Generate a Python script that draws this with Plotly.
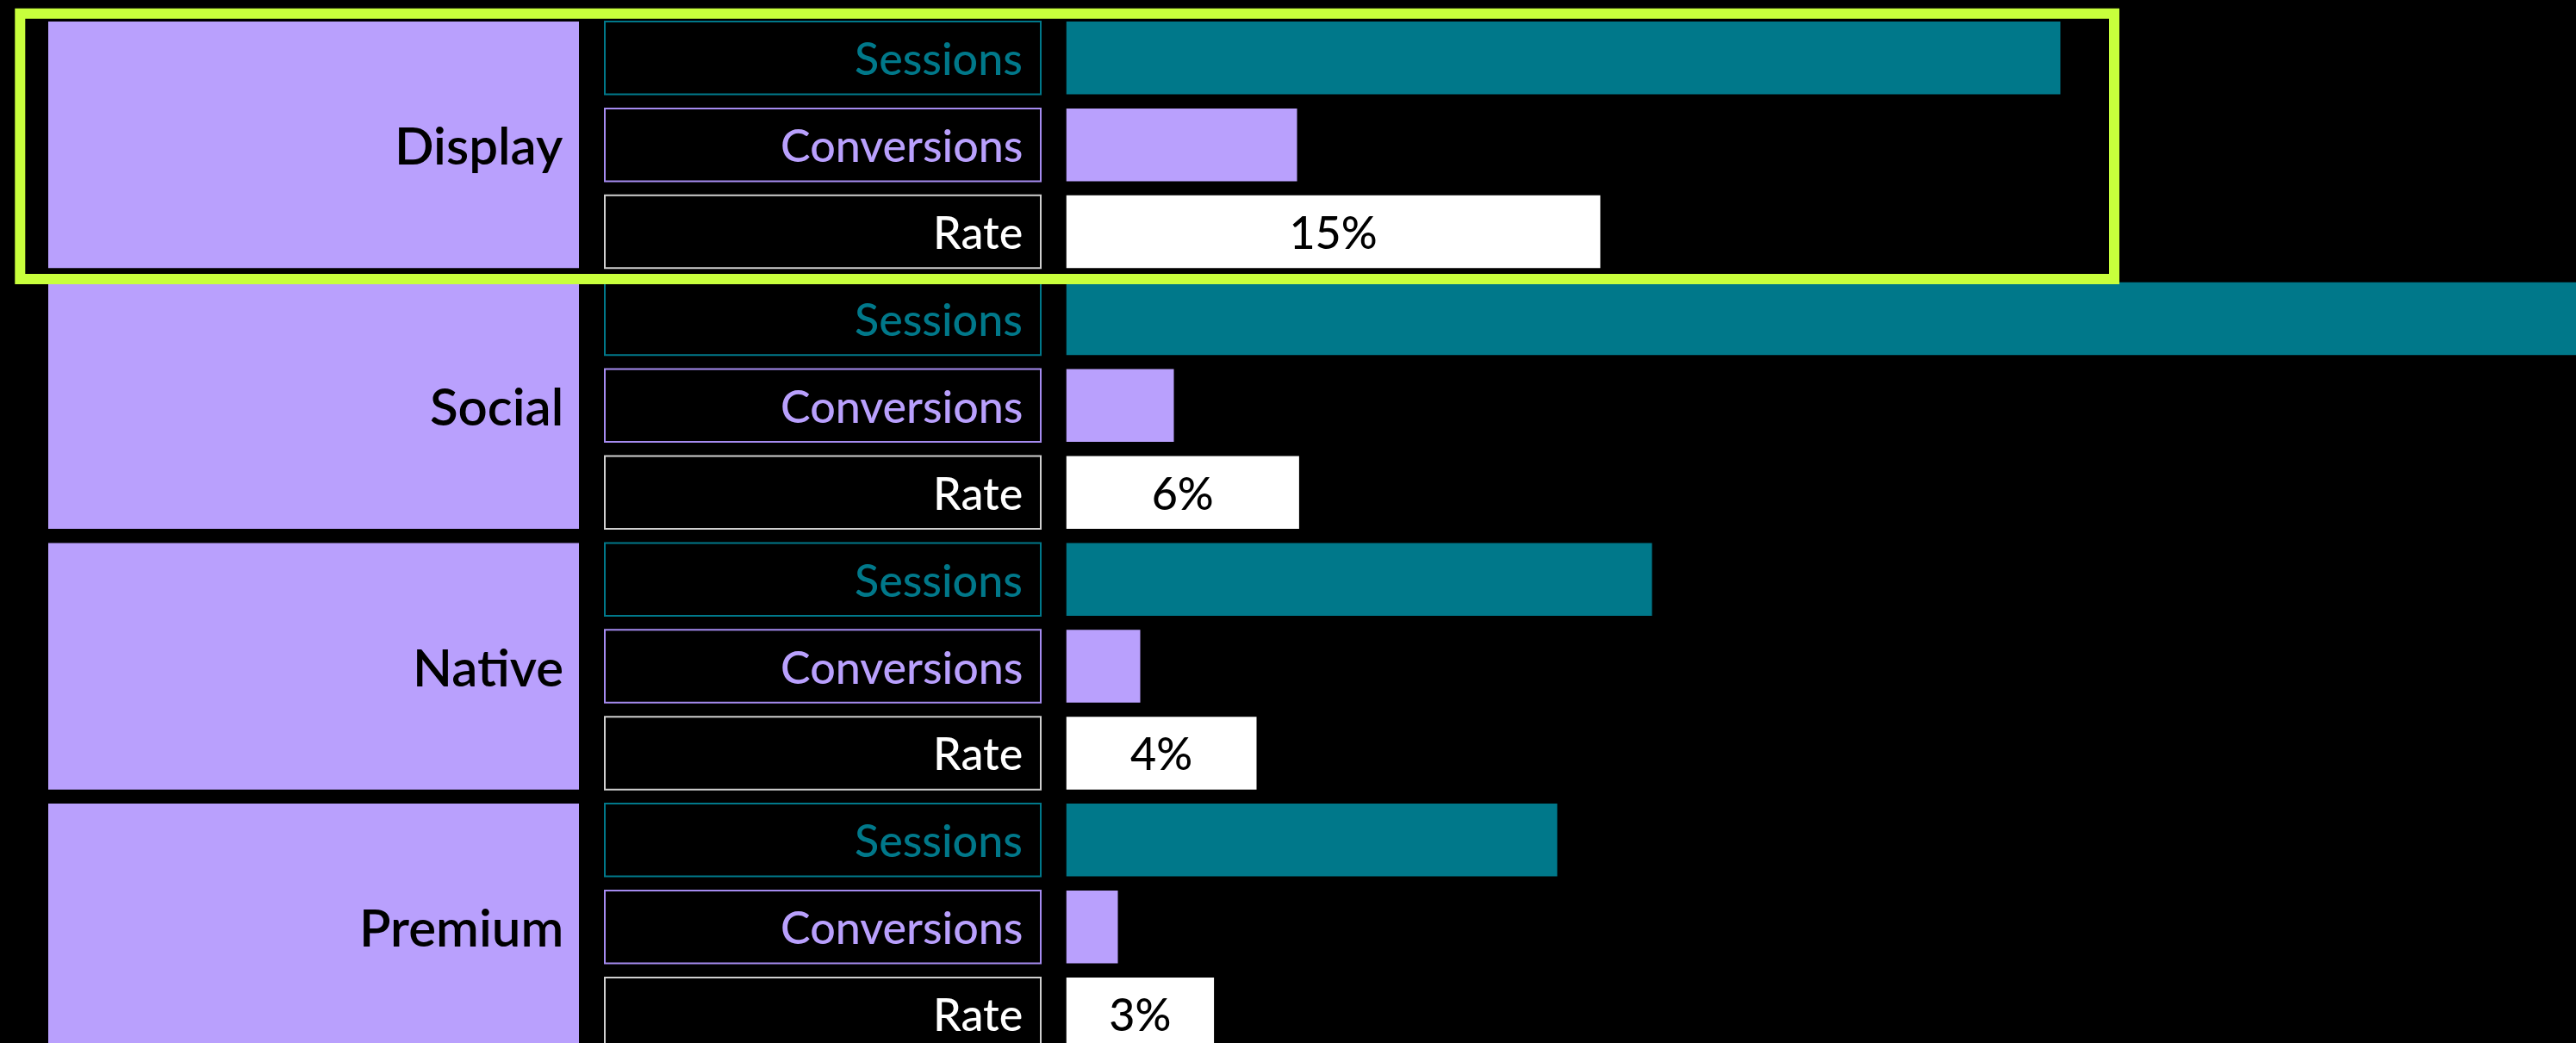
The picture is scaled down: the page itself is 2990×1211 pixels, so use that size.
import plotly.graph_objects as go

# ---------------- data ----------------
channels = ["Display", "Social", "Native", "Premium"]
metrics = ["Sessions", "Conversions", "Rate"]
sessions = [11540, 20500, 6800, 5700]
conversions = [1340, 625, 430, 300]
rates = [15.0, 5.8, 4.5, 3.2]
highlight = "Display"

# ---------------- styling ----------------
W, H = 2990, 1211
BG = "#000000"
TEAL = "#00788A"
PURPLE = "#B9A0FD"
WHITE = "#FFFFFF"
GREEN = "#C8FF3C"
FONT = "Lato"
FS = 52
FS_CAT = 60

metric_border = {"Sessions": "#00788A", "Conversions": "#A58BF0", "Rate": "#D0D0D0"}
metric_text = {"Sessions": TEAL, "Conversions": PURPLE, "Rate": WHITE}

ROW_PX = 100.9
BAR_PX = 84.5
FIRST_CENTER_PX = 67.25
BAR_W = BAR_PX / ROW_PX

CAT_X0, CAT_X1 = 56, 672
LAB_X0, LAB_X1 = 702, 1208
BAR_X0 = 1237.5
SESS_PX_PER = 0.1
CONV_PX_PER = 0.2
RATE_PX_PER = 38.0
RATE_PAD_PX = 50.0

y_top = -FIRST_CENTER_PX / ROW_PX
y_bot = (H - FIRST_CENTER_PX) / ROW_PX


def row(g, m):
    return g * len(metrics) + m


fig = go.Figure()

# category blocks
fig.add_trace(go.Bar(
    orientation="h", xaxis="x", yaxis="y",
    x=[1] * len(channels), y=[row(g, 1) for g in range(len(channels))],
    width=len(metrics) - 1 + BAR_W, marker=dict(color=PURPLE, line=dict(width=0)),
    hoverinfo="skip", showlegend=False,
))

# metric label boxes
lab_y, lab_line = [], []
for g in range(len(channels)):
    for m, name in enumerate(metrics):
        lab_y.append(row(g, m))
        lab_line.append(metric_border[name])
fig.add_trace(go.Bar(
    orientation="h", xaxis="x2", yaxis="y",
    x=[1] * len(lab_y), y=lab_y, width=BAR_W,
    marker=dict(color=BG, line=dict(color=lab_line, width=2)),
    hoverinfo="skip", showlegend=False,
))

# sessions
fig.add_trace(go.Bar(
    orientation="h", xaxis="x3", yaxis="y",
    x=sessions, y=[row(g, 0) for g in range(len(channels))], width=BAR_W,
    marker=dict(color=TEAL, line=dict(width=0)), name="Sessions", showlegend=False,
))
# conversions
fig.add_trace(go.Bar(
    orientation="h", xaxis="x4", yaxis="y",
    x=conversions, y=[row(g, 1) for g in range(len(channels))], width=BAR_W,
    marker=dict(color=PURPLE, line=dict(width=0)), name="Conversions", showlegend=False,
))
# rate
rate_off = RATE_PAD_PX / RATE_PX_PER
fig.add_trace(go.Bar(
    orientation="h", xaxis="x5", yaxis="y",
    x=[r + rate_off for r in rates], base=-rate_off,
    y=[row(g, 2) for g in range(len(channels))], width=BAR_W,
    marker=dict(color=WHITE, line=dict(width=0)), name="Rate", showlegend=False,
    text=[f"{round(r)}%" for r in rates], textposition="inside",
    insidetextanchor="middle", constraintext="none",
    textfont=dict(family=FONT, size=FS, color="#000000", weight=500),
    hoverinfo="skip",
))

annotations = []
for g, ch in enumerate(channels):
    annotations.append(dict(
        xref="x", yref="y", x=1, y=row(g, 1), xanchor="right", yanchor="middle",
        xshift=-16, text=ch, showarrow=False,
        font=dict(family=FONT, size=FS_CAT, color="#000000", weight=600),
    ))
    for m, name in enumerate(metrics):
        annotations.append(dict(
            xref="x2", yref="y", x=1, y=row(g, m), xanchor="right", yanchor="middle",
            xshift=-19, text=name, showarrow=False,
            font=dict(family=FONT, size=FS, color=metric_text[name], weight=500),
        ))

# highlight frame around chosen channel
hg = channels.index(highlight)
fx0, fx1 = 23.3 / W, 2454 / W
fy0 = row(hg, 0) - 0.51
fy1 = row(hg, len(metrics) - 1) + 0.545
shapes = [dict(
    type="rect", xref="paper", yref="y", x0=fx0, x1=fx1, y0=fy0, y1=fy1,
    line=dict(color=GREEN, width=12), fillcolor="rgba(0,0,0,0)", layer="above",
)]


def px_dom(a, b):
    return [max(a, 0) / W, min(b, W) / W]


lab_scale = (LAB_X1 - LAB_X0)
hidden = dict(visible=False, showgrid=False, zeroline=False, fixedrange=True)
fig.update_layout(
    width=W, height=H, margin=dict(l=0, r=0, t=0, b=0, pad=0),
    paper_bgcolor=BG, plot_bgcolor="rgba(0,0,0,0)", barmode="overlay", showlegend=False,
    font=dict(family=FONT),
    xaxis=dict(domain=px_dom(CAT_X0, CAT_X1), range=[0, 1], anchor="y", **hidden),
    xaxis2=dict(domain=px_dom(LAB_X0 - 3, LAB_X1 + 3),
                range=[-3 / lab_scale, 1 + 3 / lab_scale], anchor="y", **hidden),
    xaxis3=dict(domain=px_dom(BAR_X0, W), range=[0, (W - BAR_X0) / SESS_PX_PER],
                anchor="y", **hidden),
    xaxis4=dict(domain=px_dom(BAR_X0, W), range=[0, (W - BAR_X0) / CONV_PX_PER],
                anchor="y", overlaying="x3", **hidden),
    xaxis5=dict(domain=px_dom(BAR_X0, W),
                range=[-rate_off, (W - BAR_X0 - RATE_PAD_PX) / RATE_PX_PER],
                anchor="y", overlaying="x3", **hidden),
    yaxis=dict(domain=[0, 1], range=[y_bot, y_top], anchor="x", **hidden),
    annotations=annotations, shapes=shapes,
)

fig.write_html(
    "out.html",
    config={"displayModeBar": False},
    post_script="document.body.style.margin='0';document.body.style.background='#000';"
                "document.body.style.overflow='hidden';",
)
